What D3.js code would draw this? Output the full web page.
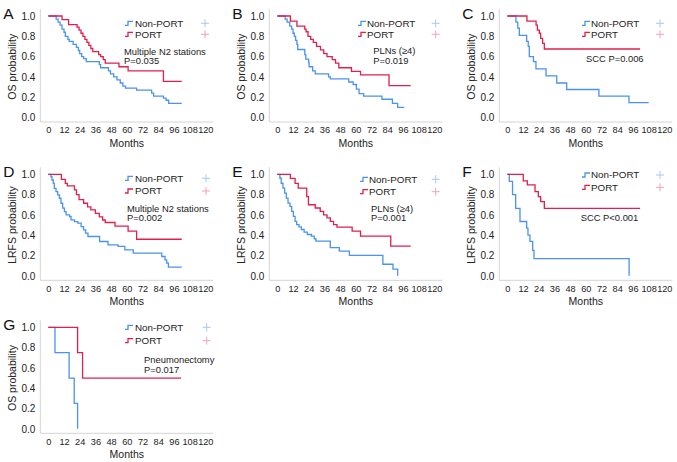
<!DOCTYPE html>
<html><head><meta charset="utf-8">
<script src="https://cdn.jsdelivr.net/npm/d3@7"></script>
<style>body{margin:0;background:#fff}svg{display:block}text{font-family:"Liberation Sans",Arial,sans-serif}</style>
</head><body>
<svg id="chart" width="677" height="462"></svg>
<script>
// ---------- DATA (time in months, survival probability) ----------
const xTicks = [0,12,24,36,48,60,72,84,96,108,120];
const yTicks = [0,0.2,0.4,0.6,0.8,1.0];
const groups = ["Non-PORT","PORT"];

const A_nonPORT = [[0,1],[6,0.97],[7.5,0.94],[9,0.91],[10.5,0.87],[12,0.84],[13,0.8],[15,0.77],[16,0.75],[19,0.72],[21.5,0.69],[23,0.66],[24,0.63],[25.5,0.6],[27,0.58],[29,0.55],[39,0.52],[40,0.49],[46,0.46],[47.5,0.43],[50,0.4],[52.5,0.37],[55,0.34],[57,0.31],[59,0.29],[67.5,0.27],[79,0.24],[80.5,0.21],[88,0.19],[90,0.17],[92,0.14],[102,0.14]];
const A_PORT = [[0,1],[10.5,0.965],[15.5,0.915],[22,0.89],[23.5,0.86],[25,0.83],[26.5,0.8],[28,0.77],[29.5,0.74],[31,0.71],[32.5,0.68],[34,0.65],[38.5,0.62],[40,0.6],[42,0.57],[43.5,0.535],[54,0.5],[61,0.46],[88,0.355],[102,0.355]];

const B_nonPORT = [[0,1],[6,0.97],[7.5,0.94],[9.5,0.9],[11,0.87],[12,0.83],[13,0.8],[14,0.76],[15,0.72],[15.6,0.67],[21,0.62],[21.8,0.575],[24,0.54],[24.3,0.5],[27,0.46],[29,0.43],[39.2,0.4],[40.5,0.38],[54.6,0.35],[58,0.325],[60.5,0.28],[62.5,0.235],[66,0.21],[80,0.18],[88,0.14],[92,0.1],[97,0.1]];
const B_PORT = [[0,1],[10,0.95],[15,0.9],[21,0.87],[22,0.845],[23.5,0.8],[25.5,0.77],[27.5,0.74],[30,0.7],[33,0.666],[35.5,0.63],[38,0.6],[42,0.57],[44.5,0.535],[47,0.49],[56.7,0.455],[63.6,0.42],[85.4,0.315],[102,0.315]];

const C_nonPORT = [[0,1],[6.6,0.94],[8,0.88],[9.2,0.81],[14.8,0.75],[16,0.7],[16.8,0.6],[20,0.55],[21.9,0.48],[29.6,0.41],[37.8,0.34],[45.4,0.276],[70,0.21],[93,0.146],[108,0.146]];
const C_PORT = [[0,1],[15,0.95],[22,0.91],[23,0.86],[24.5,0.83],[25.5,0.78],[27,0.73],[28.3,0.675],[101.5,0.675]];

const D_nonPORT = [[0,1],[2,0.977],[2.8,0.944],[3.8,0.911],[4.6,0.862],[5.9,0.83],[7.2,0.797],[8.5,0.764],[9.7,0.715],[11,0.666],[12.3,0.633],[13.6,0.6],[16.2,0.584],[17.4,0.551],[20,0.534],[22.6,0.518],[25.1,0.485],[26.9,0.452],[28.5,0.42],[30.3,0.387],[39.2,0.338],[45.6,0.305],[53.3,0.289],[58.5,0.256],[64.9,0.223],[86.7,0.19],[89.2,0.157],[90.5,0.125],[91.8,0.085],[102,0.085]];
const D_PORT = [[0,1],[10,0.95],[13,0.91],[14.5,0.885],[20,0.846],[21.5,0.8],[23.5,0.75],[27,0.715],[30,0.68],[32.5,0.65],[36,0.616],[39,0.58],[41.5,0.55],[43.5,0.525],[51,0.49],[61,0.44],[67.5,0.36],[102,0.36]];

const E_nonPORT = [[0,1],[2,0.961],[3,0.912],[4.3,0.863],[5.6,0.814],[6.9,0.765],[8.2,0.717],[9.7,0.684],[11,0.635],[12.3,0.586],[13.6,0.537],[14.8,0.505],[16.6,0.482],[18.4,0.456],[20.5,0.43],[23,0.407],[26.1,0.391],[28.2,0.365],[29.5,0.342],[40.5,0.277],[47.4,0.244],[55.1,0.202],[80.7,0.114],[88.4,0.065],[92,0]];
const E_PORT = [[0,1],[10,0.96],[13.6,0.91],[16,0.863],[22.5,0.78],[23.8,0.7],[29,0.668],[32.8,0.635],[35.4,0.6],[38,0.57],[40.5,0.537],[43,0.505],[45.6,0.48],[57.2,0.44],[63.6,0.39],[86.7,0.293],[102,0.293]];

const F_nonPORT = [[0,1],[1.5,0.93],[4,0.8],[6.4,0.665],[9.7,0.535],[14.8,0.47],[15.8,0.4],[17.3,0.34],[19.4,0.25],[20.4,0.17],[93.1,0]];
const F_PORT = [[0,1],[12.2,0.935],[15.3,0.895],[21.2,0.83],[23.7,0.78],[25.5,0.73],[28.3,0.665],[101.5,0.665]];

const G_nonPORT = [[0,1],[5.1,0.75],[15.9,0.5],[19.8,0.25],[22.4,0]];
const G_PORT = [[0,1],[22.4,0.75],[26.2,0.5],[101.5,0.5]];

const panelLetters = ["A","B","C","D","E","F","G"];
const yTitles = ["OS probability","OS probability","OS probability","LRFS probability","LRFS probability","LRFS probability","OS probability"];
const notes = [["Multiple N2 stations","P=0.035"],["PLNs (\u22654)","P=0.019"],["SCC P=0.006"],["Multiple N2 stations","P=0.002"],["PLNs (\u22654)","P=0.001"],["SCC P<0.001"],["Pneumonectomy","P=0.017"]];
const seriesData = [[A_nonPORT,A_PORT],[B_nonPORT,B_PORT],[C_nonPORT,C_PORT],[D_nonPORT,D_PORT],[E_nonPORT,E_PORT],[F_nonPORT,F_PORT],[G_nonPORT,G_PORT]];

// ---------- LAYOUT ----------
const layout = [
  {x0:48.3, yTop:16,    yBot:117.5, leg:{ix:125,tx:135,px:205,  y1:23.3, y2:34.3}, note:{x:124,  y:51.7}},
  {x0:277.3,yTop:16,    yBot:117.5, leg:{ix:358,tx:367,px:435.7,y1:23.3, y2:34.3}, note:{x:373.3,y:51}},
  {x0:507.3,yTop:16,    yBot:117.5, leg:{ix:582,tx:591,px:660,  y1:23.3, y2:34.3}, note:{x:586,  y:59}},
  {x0:48.3, yTop:174.3, yBot:275.8, leg:{ix:125,tx:135,px:206,  y1:178.3,y2:191},  note:{x:127,  y:208.3}},
  {x0:277.3,yTop:174.3, yBot:275.8, leg:{ix:360,tx:369,px:435.7,y1:179.3,y2:191.7},note:{x:371,  y:208.3}},
  {x0:507.3,yTop:174.3, yBot:275.8, leg:{ix:582,tx:591,px:660,  y1:175,  y2:187.3},note:{x:580.7,y:217.3}},
  {x0:48.3, yTop:327.3, yBot:428.8, leg:{ix:125,tx:135,px:206.7,y1:327.3,y2:340.7},note:{x:144,  y:360}}
];
const colors = ["#4a93ee","#e01f4b"];
const lightColors = ["#a8c9f3","#f2a3b6"];
const xSpan = 157;

const svg = d3.select("#chart");

layout.forEach((L,i)=>{
  const g = svg.append("g");
  const x = d3.scaleLinear().domain([0,120]).range([L.x0, L.x0+xSpan]);
  const y = d3.scaleLinear().domain([0,1]).range([L.yBot, L.yTop]);
  const axX = L.x0-8, axY = L.yBot+4.5;
  g.append("line").attr("x1",axX).attr("x2",axX).attr("y1",L.yTop-7).attr("y2",axY).attr("stroke","#d4d4d4").attr("stroke-width",1);
  g.append("line").attr("x1",axX).attr("x2",x(120)+8).attr("y1",axY).attr("y2",axY).attr("stroke","#d4d4d4").attr("stroke-width",1);
  const ya = d3.axisLeft(y).tickValues(yTicks).tickFormat(d3.format(".1f")).tickSize(0).tickPadding(0);
  const yg = g.append("g").attr("transform",`translate(${L.x0-13},0)`).call(ya);
  yg.select(".domain").remove();
  yg.selectAll("text").attr("font-size",10).attr("fill","#222").attr("font-family","Liberation Sans, Arial, sans-serif");
  const xa = d3.axisBottom(x).tickValues(xTicks).tickSize(0).tickPadding(0);
  const xg = g.append("g").attr("transform",`translate(0,${L.yBot+9.3})`).call(xa);
  xg.select(".domain").remove();
  xg.selectAll("text").attr("font-size",9.2).attr("fill","#222").attr("font-family","Liberation Sans, Arial, sans-serif");
  g.append("text").attr("x",x(60)).attr("y",L.yBot+25.5).attr("dy","0.35em").attr("text-anchor","middle").attr("font-size",10.5).attr("fill","#222").text("Months");
  g.append("text").attr("transform",`translate(${L.x0-36},${(L.yTop+L.yBot)/2}) rotate(-90)`).attr("dy","0.35em").attr("text-anchor","middle").attr("font-size",10.5).attr("fill","#222").text(yTitles[i]);
  g.append("text").attr("x",L.x0-45).attr("y",L.yTop+2.5).attr("font-size",15.5).attr("fill","#111").text(panelLetters[i]);
  const line = d3.line().x(d=>x(d[0])).y(d=>y(d[1])).curve(d3.curveStepAfter);
  seriesData[i].forEach((s,k)=>{
    g.append("path").attr("d",line(s)).attr("fill","none").attr("stroke",colors[k]).attr("stroke-width",1.3);
  });
  [L.leg.y1,L.leg.y2].forEach((ly,k)=>{
    g.append("path").attr("d",`M${L.leg.ix},${ly+2} h3 v-4 h5`).attr("fill","none").attr("stroke",colors[k]).attr("stroke-width",1.3);
    g.append("text").attr("x",L.leg.tx).attr("y",ly).attr("dy","0.35em").attr("font-size",9.8).attr("fill","#222").text(groups[k]);
    g.append("path").attr("d",`M${L.leg.px-4},${ly} h8 M${L.leg.px},${ly-4} v8`).attr("stroke",lightColors[k]).attr("stroke-width",1);
  });
  notes[i].forEach((t,k)=>{
    g.append("text").attr("x",L.note.x).attr("y",L.note.y+k*9.5).attr("dy","0.35em").attr("font-size",9.4).attr("fill","#222").text(t);
  });
});
</script>
</body></html>
